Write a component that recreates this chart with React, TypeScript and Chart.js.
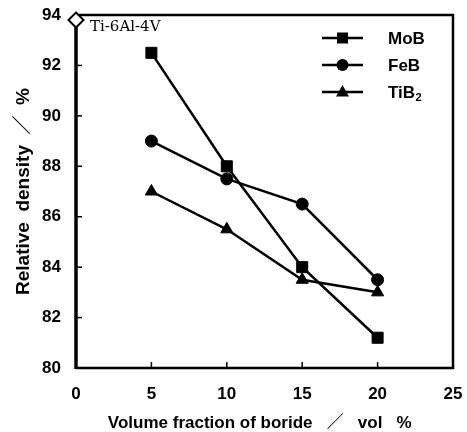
import React, { useEffect, useRef } from "react";
import { Chart, registerables } from "chart.js";

Chart.register(...registerables);

// ---- data ----
const volumeFractions = [5, 10, 15, 20];
const mobDensity = [92.5, 88.0, 84.0, 81.2];
const febDensity = [89.0, 87.5, 86.5, 83.5];
const tib2Density = [87.0, 85.5, 83.5, 83.0];
const seriesNames = ["MoB", "FeB", "TiB₂"];
const referenceAlloy = "Ti-6Al-4V";
const referenceFraction = [0];
const referenceDensity = [93.8];
const xAxisTitle = "Volume fraction of boride   ／   vol   %  ";
const yAxisTitle = "Relative  density  ／  %";

const FONT = "'Liberation Sans', Arial, 'Noto Sans CJK JP', sans-serif";

const pts = (xs: number[], ys: number[]) => xs.map((x, i) => ({ x, y: ys[i] }));

const framePlugin = {
  id: "frameAndLegend",
  beforeDatasetsDraw(chart: any) {
    const { ctx, chartArea, scales } = chart;
    const { left, right, top, bottom } = chartArea;
    ctx.save();
    ctx.strokeStyle = "#000";
    ctx.lineCap = "butt";
    ctx.lineWidth = 2.5;
    ctx.beginPath();
    ctx.moveTo(left, top);
    ctx.lineTo(right, top);
    ctx.lineTo(right, bottom);
    ctx.lineTo(left, bottom);
    ctx.stroke();
    ctx.lineWidth = 3.5;
    ctx.beginPath();
    ctx.moveTo(left, top - 1);
    ctx.lineTo(left, bottom + 1);
    ctx.stroke();
    // inward ticks
    ctx.lineWidth = 1.5;
    const xs = scales.x;
    const ys = scales.y;
    xs.ticks.forEach((t: any) => {
      if (t.value <= xs.min || t.value >= xs.max) return;
      const px = xs.getPixelForValue(t.value);
      ctx.beginPath();
      ctx.moveTo(px, bottom);
      ctx.lineTo(px, bottom - 6);
      ctx.stroke();
    });
    ys.ticks.forEach((t: any) => {
      if (t.value <= ys.min || t.value >= ys.max) return;
      const py = ys.getPixelForValue(t.value);
      ctx.beginPath();
      ctx.moveTo(left, py);
      ctx.lineTo(left + 6, py);
      ctx.stroke();
    });
    ctx.restore();
  },
  afterDatasetsDraw(chart: any) {
    const { ctx, chartArea, scales } = chart;
    const { left } = chartArea;
    const ys = scales.y;
    ctx.save();
    ctx.strokeStyle = "#000";
    ctx.fillStyle = "#000";
    // reference alloy label
    ctx.font = "15px 'DejaVu Serif', 'Liberation Serif', serif";
    ctx.textBaseline = "middle";
    ctx.textAlign = "left";
    const refY = ys.getPixelForValue(referenceDensity[0]);
    ctx.fillText(referenceAlloy, left + 14, refY + 7);

    // legend
    const legendX0 = 322;
    const legendX1 = 363;
    const legendYs = [38, 65, 92];
    const styles = ["rect", "circle", "triangle"];
    seriesNames.forEach((name, i) => {
      const y = legendYs[i];
      ctx.lineWidth = 2.5;
      ctx.beginPath();
      ctx.moveTo(legendX0, y);
      ctx.lineTo(legendX1, y);
      ctx.stroke();
      const cx = (legendX0 + legendX1) / 2;
      ctx.beginPath();
      if (styles[i] === "rect") {
        ctx.rect(cx - 5.5, y - 5.5, 11, 11);
      } else if (styles[i] === "circle") {
        ctx.arc(cx, y, 6, 0, Math.PI * 2);
      } else {
        ctx.moveTo(cx, y - 7);
        ctx.lineTo(cx + 6.5, y + 4.5);
        ctx.lineTo(cx - 6.5, y + 4.5);
        ctx.closePath();
      }
      ctx.fill();
      ctx.font = `bold 17px ${FONT}`;
      ctx.textBaseline = "middle";
      if (name.endsWith("₂")) {
        const base = name.slice(0, -1);
        ctx.fillText(base, 388, y + 1);
        const w = ctx.measureText(base).width;
        ctx.font = `bold 11px ${FONT}`;
        ctx.fillText("2", 388 + w + 0.5, y + 6);
      } else {
        ctx.fillText(name, 388, y + 1);
      }
    });
    ctx.restore();
  },
};

const zeroPad = (s: any) => {
  s.paddingLeft = 0;
  s.paddingRight = 0;
  s.paddingTop = 0;
  s.paddingBottom = 0;
};

export default function App() {
  const ref = useRef<HTMLCanvasElement | null>(null);
  useEffect(() => {
    if (!ref.current) return;
    const lineDs = (label: string, ys: number[], style: string, radius: number) => ({
      label,
      data: pts(volumeFractions, ys),
      borderColor: "#000",
      backgroundColor: "#000",
      borderWidth: 2.5,
      pointStyle: style,
      pointRadius: radius,
      pointBackgroundColor: "#000",
      pointBorderColor: "#000",
      pointBorderWidth: 1,
      tension: 0,
      clip: false,
    });
    const chart = new Chart(ref.current, {
      type: "line",
      data: {
        datasets: [
          lineDs(seriesNames[0], mobDensity, "rect", 7.8),
          lineDs(seriesNames[1], febDensity, "circle", 6),
          lineDs(seriesNames[2], tib2Density, "triangle", 7),
          {
            label: referenceAlloy,
            data: pts(referenceFraction, referenceDensity),
            showLine: false,
            pointStyle: "rectRot",
            pointRadius: 7.5,
            pointBackgroundColor: "#fff",
            pointBorderColor: "#000",
            pointBorderWidth: 2,
            clip: false,
          } as any,
        ],
      },
      options: {
        responsive: false,
        maintainAspectRatio: false,
        animation: false,
        events: [],
        layout: { padding: { top: 15, right: 14, left: 0, bottom: 0 } },
        plugins: { legend: { display: false }, tooltip: { enabled: false } },
        scales: {
          x: {
            type: "linear",
            min: 0,
            max: 25,
            grid: { display: false },
            border: { display: false },
            ticks: {
              stepSize: 5,
              padding: 8,
              color: "#000",
              font: { family: FONT, size: 17, weight: "bold" },
            },
            title: {
              display: true,
              text: xAxisTitle,
              color: "#000",
              font: { family: FONT, size: 17, weight: "bold" },
              padding: { top: 0, bottom: -2 },
            },
            afterFit: (s: any) => {
              s.height = 64;
              zeroPad(s);
            },
          },
          y: {
            type: "linear",
            min: 80,
            max: 94,
            grid: { display: false },
            border: { display: false },
            ticks: {
              stepSize: 2,
              padding: 7,
              color: "#000",
              font: { family: FONT, size: 17, weight: "bold" },
            },
            title: {
              display: true,
              text: yAxisTitle,
              color: "#000",
              font: { family: FONT, size: 19, weight: "bold" },
              padding: { top: 12, bottom: 0 },
            },
            afterFit: (s: any) => {
              s.width = 76;
              zeroPad(s);
            },
          },
        },
      } as any,
      plugins: [framePlugin],
    });
    return () => chart.destroy();
  }, []);
  return (
    <div style={{ position: "absolute", left: 0, top: 0, width: 467, height: 432, background: "#fff" }}>
      <canvas ref={ref} width={467} height={432} style={{ display: "block", width: 467, height: 432 }} />
    </div>
  );
}
